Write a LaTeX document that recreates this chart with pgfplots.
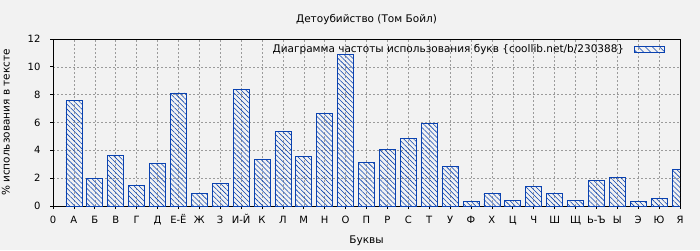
\documentclass[border=0pt]{standalone}
\usepackage{pgfplots}
\pgfplotsset{compat=1.18}
\usepackage{fontspec}
\setmainfont{DejaVu Sans}
\usetikzlibrary{patterns.meta}
\definecolor{bg}{RGB}{242,242,242}
\definecolor{barblue}{RGB}{10,66,176}
\definecolor{gridgray}{RGB}{155,155,155}
\begin{document}
\begin{tikzpicture}
\fill[bg] (0pt,0pt) rectangle (700pt,250pt);
\begin{axis}[
  at={(53pt,44pt)}, anchor=origin,
  scale only axis, width=627pt, height=167pt,
  xmin=0, xmax=30, ymin=0, ymax=12,
  ytick={0,2,...,12},
  xtick={0,...,30},
  xticklabels={0,А,Б,В,Г,Д,Е-Ё,Ж,З,И-Й,К,Л,М,Н,О,П,Р,С,Т,У,Ф,Х,Ц,Ч,Ш,Щ,Ь-Ъ,Ы,Э,Ю,Я},
  /pgf/number format/assume math mode=true,
  ticklabel style={font=\fontsize{10}{12}\selectfont},
  xticklabel style={text height=7.5pt, text depth=0pt, anchor=north, yshift=-3pt},
  yticklabel style={xshift=-6pt},
  grid=major,
  grid style={gridgray, line width=0.6pt, dash pattern=on 2pt off 2pt},
  axis line style={black, line width=0.9pt},
  tick style={black, line width=0.8pt},
  tick align=outside, major tick length=3pt,
  xtick pos=bottom, ytick pos=left,
  axis background/.style={fill=bg},
  title={Детоубийство (Том Бойл)},
  title style={font=\fontsize{10.5}{12}\selectfont, at={(0.5,1)}, anchor=south, yshift=5pt},
  xlabel={Буквы},
  xlabel style={font=\fontsize{10.5}{12}\selectfont, yshift=-6pt},
  ylabel={\% использования в тексте},
  ylabel style={font=\fontsize{10.5}{12}\selectfont, yshift=11pt},
  legend plot pos=right,
  legend style={draw=none, fill=none, at={(1,1)}, anchor=north east, xshift=-12pt, yshift=-1pt, font=\fontsize{10.5}{12}\selectfont},
]
\addplot[ybar, bar width=16pt, draw=barblue, line width=0.8pt,
  pattern={Lines[angle=-45,distance=3.5pt,line width=0.55pt]}, pattern color=barblue,
  legend image code/.code={\path (0pt,0pt) -- (0pt,0pt); \draw[draw=barblue, line width=0.8pt, pattern={Lines[angle=-45,distance=5pt,line width=0.55pt]}, pattern color=barblue] (8pt,-3pt) rectangle (38pt,3pt);}]
coordinates {
(1,7.59) (2,1.99) (3,3.64) (4,1.49) (5,3.07) (6,8.12) (7,0.91) (8,1.63) (9,8.38)
(10,3.35) (11,5.37) (12,3.57) (13,6.66) (14,10.9) (15,3.14) (16,4.07) (17,4.86)
(18,5.94) (19,2.85) (20,0.34) (21,0.91) (22,0.41) (23,1.42) (24,0.91) (25,0.41)
(26,1.85) (27,2.08) (28,0.34) (29,0.55) (30,2.64)
};
\addlegendentry{Диаграмма частоты использования букв \{coollib.net/b/230388\}}
\end{axis}
\pgfresetboundingbox
\useasboundingbox (0pt,0pt) rectangle (700pt,250pt);
\end{tikzpicture}
\end{document}
